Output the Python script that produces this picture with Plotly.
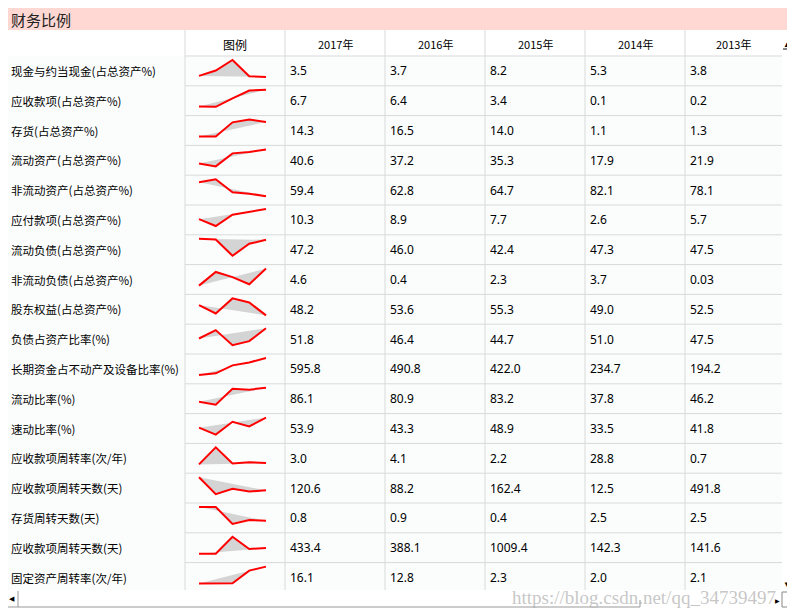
import plotly.graph_objects as go

# 财务比例表 + 迷你折线图
title = "财务比例"
years = ["2017年", "2016年", "2015年", "2014年", "2013年"]

labels = [
    "现金与约当现金(占总资产%)",
    "应收款项(占总资产%)",
    "存货(占总资产%)",
    "流动资产(占总资产%)",
    "非流动资产(占总资产%)",
    "应付款项(占总资产%)",
    "流动负债(占总资产%)",
    "非流动负债(占总资产%)",
    "股东权益(占总资产%)",
    "负债占资产比率(%)",
    "长期资金占不动产及设备比率(%)",
    "流动比率(%)",
    "速动比率(%)",
    "应收款项周转率(次/年)",
    "应收款项周转天数(天)",
    "存货周转天数(天)",
    "应收款项周转天数(天)",
    "固定资产周转率(次/年)",
]

v2017 = ["3.5", "6.7", "14.3", "40.6", "59.4", "10.3", "47.2", "4.6", "48.2", "51.8",
         "595.8", "86.1", "53.9", "3.0", "120.6", "0.8", "433.4", "16.1"]
v2016 = ["3.7", "6.4", "16.5", "37.2", "62.8", "8.9", "46.0", "0.4", "53.6", "46.4",
         "490.8", "80.9", "43.3", "4.1", "88.2", "0.9", "388.1", "12.8"]
v2015 = ["8.2", "3.4", "14.0", "35.3", "64.7", "7.7", "42.4", "2.3", "55.3", "44.7",
         "422.0", "83.2", "48.9", "2.2", "162.4", "0.4", "1009.4", "2.3"]
v2014 = ["5.3", "0.1", "1.1", "17.9", "82.1", "2.6", "47.3", "3.7", "49.0", "51.0",
         "234.7", "37.8", "33.5", "28.8", "12.5", "2.5", "142.3", "2.0"]
v2013 = ["3.8", "0.2", "1.3", "21.9", "78.1", "5.7", "47.5", "0.03", "52.5", "47.5",
         "194.2", "46.2", "41.8", "0.7", "491.8", "2.5", "141.6", "2.1"]

columns = [v2017, v2016, v2015, v2014, v2013]

# 版面 (页面像素坐标; 页面 body 有 8px 边距, 所以坐标从 8 开始)
W, H = 795, 616
OFF = 8
TXT_L = 9
HEAD_TOP, HEAD_BOT = 30, 56
ROW_H = 29.8
TABLE_R = 782
VIS_BOT = 590
COL_EDGES = [185, 285, 385, 485, 585, 685, TABLE_R]
GRID = "#d9d9d9"

fig = go.Figure()
shapes = []
ann = []

# 标题栏
shapes.append(dict(type="rect", x0=0, x1=W, y0=0, y1=HEAD_TOP, fillcolor="#ffd8d4", line_width=0, layer="below"))
ann.append(dict(x=TXT_L, y=19, text=title, xanchor="left", showarrow=False,
                font=dict(size=15, color="#222", family="Noto Sans CJK SC")))

# 行背景
shapes.append(dict(type="rect", x0=0, x1=TABLE_R, y0=HEAD_BOT, y1=VIS_BOT, fillcolor="#fbfdfd", line_width=0, layer="below"))

# 表头
ann.append(dict(x=235, y=44, text="图例", showarrow=False,
                font=dict(size=12, color="#000", family="Noto Sans CJK SC")))
for j, yr in enumerate(years):
    ann.append(dict(x=(COL_EDGES[j + 1] + COL_EDGES[j + 2]) / 2, y=44, text=yr, showarrow=False,
                    font=dict(size=11, color="#000", family="Noto Sans CJK SC")))

# 网格线
for xe in COL_EDGES[:-1]:
    shapes.append(dict(type="line", x0=xe, x1=xe, y0=HEAD_TOP, y1=VIS_BOT, line=dict(color=GRID, width=1)))
shapes.append(dict(type="line", x0=COL_EDGES[0], x1=TABLE_R, y0=HEAD_BOT, y1=HEAD_BOT, line=dict(color=GRID, width=1)))

for i, lab in enumerate(labels):
    top = HEAD_BOT + ROW_H * i
    mid = top + ROW_H / 2
    bot = top + ROW_H
    if bot < VIS_BOT:
        shapes.append(dict(type="line", x0=COL_EDGES[0], x1=TABLE_R, y0=bot, y1=bot, line=dict(color=GRID, width=1)))
    ann.append(dict(x=TXT_L, y=mid, text=lab, xanchor="left", showarrow=False,
                    font=dict(size=11.5, color="#000", family="Noto Sans CJK SC")))
    for j, col in enumerate(columns):
        ann.append(dict(x=COL_EDGES[j + 1] + 3, y=mid, text=col[i], xanchor="left", showarrow=False,
                        font=dict(size=12, color="#000", family="Noto Sans, Open Sans")))

    # 迷你图: 2013 -> 2017
    vals = [float(c[i]) for c in reversed(columns)]
    lo, hi = min(vals), max(vals)
    span = (hi - lo) if hi > lo else 1.0
    xs = [199 + k * 16.75 for k in range(len(vals))]
    ys = [top + 21 - 17 * (v - lo) / span for v in vals]
    fig.add_trace(go.Scatter(x=xs + [xs[0]], y=ys + [ys[0]], mode="lines", fill="toself",
                             fillcolor="#d4d4d4", line=dict(width=0), hoverinfo="skip", showlegend=False))
    fig.add_trace(go.Scatter(x=xs, y=ys, mode="lines", line=dict(color="#ff0000", width=2),
                             hoverinfo="skip", showlegend=False))

# 滚动条
shapes.append(dict(type="line", x0=783, x1=795, y0=49, y1=49, line=dict(color="#888", width=2)))
ann.append(dict(x=787, y=43, text="▲", showarrow=False, font=dict(size=8, color="#000")))
ann.append(dict(x=787, y=583, text="▼", showarrow=False, font=dict(size=8, color="#000")))
ann.append(dict(x=12, y=598, text="◀", showarrow=False, font=dict(size=7, color="#000")))
shapes.append(dict(type="line", x0=18, x1=18, y0=591, y1=607, line=dict(color="#999", width=1)))
shapes.append(dict(type="line", x0=0, x1=640, y0=607, y1=607, line=dict(color="#999", width=1)))
shapes.append(dict(type="line", x0=640, x1=640, y0=600, y1=607, line=dict(color="#999", width=1)))
shapes.append(dict(type="rect", x0=782, x1=796, y0=592, y1=607, line=dict(color="#888", width=1), fillcolor="white"))

# 水印
ann.append(dict(x=778, y=597, text="https://blog.csdn.net/qq_34739497", xanchor="right", showarrow=False,
                font=dict(size=19, color="rgba(180,180,180,0.75)", family="Liberation Serif, DejaVu Serif")))
ann.append(dict(x=777, y=601, text="▶", showarrow=False, font=dict(size=6, color="#000")))

fig.update_layout(
    width=W - OFF, height=H - OFF,
    margin=dict(l=0, r=0, t=0, b=0),
    paper_bgcolor="white", plot_bgcolor="white",
    xaxis=dict(range=[OFF, W], visible=False, fixedrange=True),
    yaxis=dict(range=[H, OFF], visible=False, fixedrange=True),
    shapes=shapes, annotations=ann,
    showlegend=False,
)

fig.write_html("out.html")
